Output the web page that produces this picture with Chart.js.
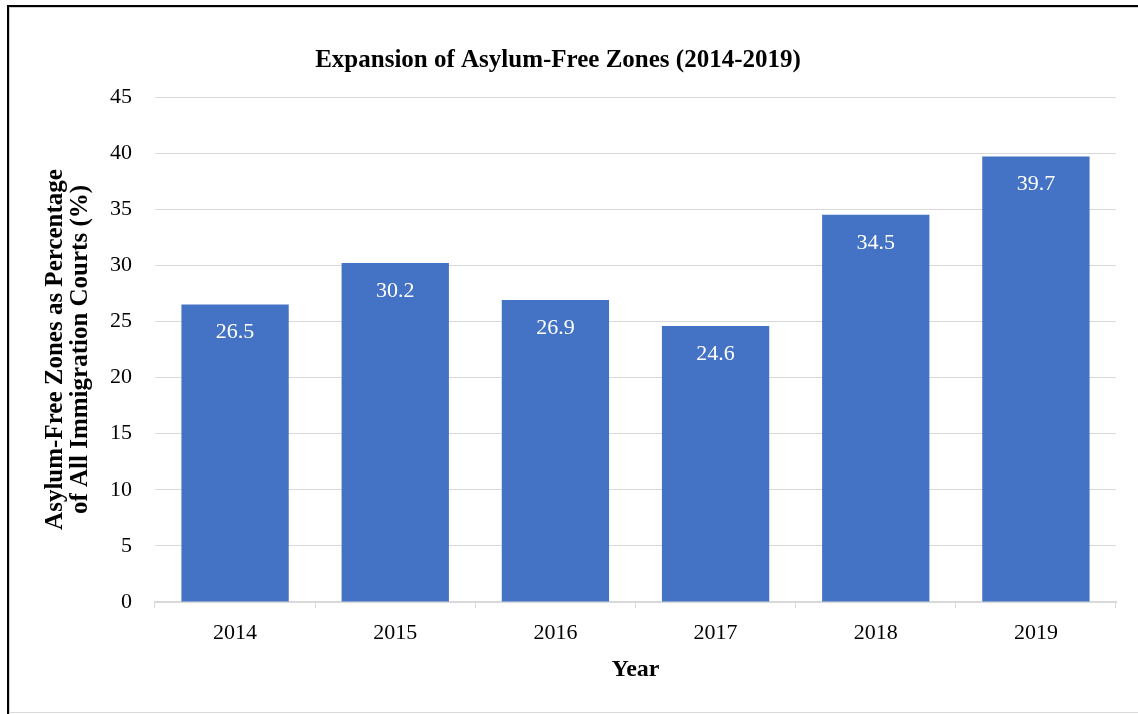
<!DOCTYPE html>
<html>
<head>
<meta charset="utf-8">
<script src="https://cdn.jsdelivr.net/npm/chart.js@4.4.0/dist/chart.umd.min.js"></script>
<style>
  html, body { margin: 0; padding: 0; background: #fff; }
  #wrap { position: relative; width: 1138px; height: 714px; }
  #frame {
    position: absolute; left: 7px; top: 5px; width: 1140px; height: 720px;
    border-left: 2px solid #000; border-top: 2px solid #000;
    box-shadow: inset 1px 1px 0 #d0d0d0;
    pointer-events: none;
  }
  #bottomline { position: absolute; left: 9px; right: 0; top: 712px; height: 1px; background: #d9d9d9; }
  canvas { position: absolute; left: 0; top: 0; }
</style>
</head>
<body>
<div id="wrap">
  <canvas id="zoneChart" width="1138" height="714"></canvas>
  <div id="frame"></div>
  <div id="bottomline"></div>
</div>
<script>
const years = ['2014', '2015', '2016', '2017', '2018', '2019'];
const percentages = [26.5, 30.2, 26.9, 24.6, 34.5, 39.7];
const yTicks = [0, 5, 10, 15, 20, 25, 30, 35, 40, 45];

const serif = "'Liberation Serif', 'Times New Roman', serif";

// white value labels inside the top of each bar
const barLabels = {
    id: 'barLabels',
    afterDatasetsDraw(chart) {
        const ctx = chart.ctx;
        const meta = chart.getDatasetMeta(0);
        ctx.save();
        ctx.fillStyle = '#ffffff';
        ctx.font = '22px ' + serif;
        ctx.textAlign = 'center';
        ctx.textBaseline = 'middle';
        meta.data.forEach((bar, i) => {
            ctx.fillText(percentages[i].toFixed(1), bar.x, bar.y + 28);
        });
        ctx.restore();
    }
};

const ctx = document.getElementById('zoneChart').getContext('2d');
new Chart(ctx, {
    type: 'bar',
    data: {
        labels: years,
        datasets: [{
            data: percentages,
            backgroundColor: '#4472c4',
            borderWidth: 0,
            barPercentage: 0.67,
            categoryPercentage: 1
        }]
    },
    options: {
        responsive: false,
        animation: false,
        layout: { padding: { left: 0, right: 22, top: 0, bottom: 0 } },
        plugins: {
            legend: { display: false },
            tooltip: { enabled: false },
            title: {
                display: true,
                text: 'Expansion of Asylum-Free Zones (2014-2019)',
                color: '#000',
                font: { family: serif, size: 25, weight: 'bold', lineHeight: 1.2 },
                padding: { top: 46, bottom: 21 }
            }
        },
        scales: {
            x: {
                afterFit: scale => { scale.height = 112; },
                grid: {
                    offset: true,
                    drawOnChartArea: false,
                    drawTicks: true,
                    tickLength: 6,
                    color: '#d9d9d9'
                },
                border: { display: true, color: '#d9d9d9', width: 2 },
                ticks: {
                    color: '#000',
                    font: { family: serif, size: 22 },
                    padding: 12
                },
                title: {
                    display: true,
                    text: 'Year',
                    color: '#000',
                    font: { family: serif, size: 24, weight: 'bold', lineHeight: 1.2 },
                    padding: { top: 0, bottom: 30 }
                }
            },
            y: {
                min: 0,
                max: 45,
                afterFit: scale => { scale.width = 155; },
                afterBuildTicks: scale => { scale.ticks = yTicks.map(v => ({ value: v })); },
                grid: { color: '#d9d9d9', lineWidth: 1, drawTicks: false },
                border: { display: false },
                ticks: {
                    color: '#000',
                    font: { family: serif, size: 22 },
                    padding: 23
                },
                title: {
                    display: true,
                    text: ['Asylum-Free Zones as Percentage', 'of All Immigration Courts (%)'],
                    color: '#000',
                    font: { family: serif, size: 25, weight: 'bold', lineHeight: 1.0 },
                    padding: { top: 43, bottom: 0 }
                }
            }
        }
    },
    plugins: [barLabels]
});
</script>
</body>
</html>
